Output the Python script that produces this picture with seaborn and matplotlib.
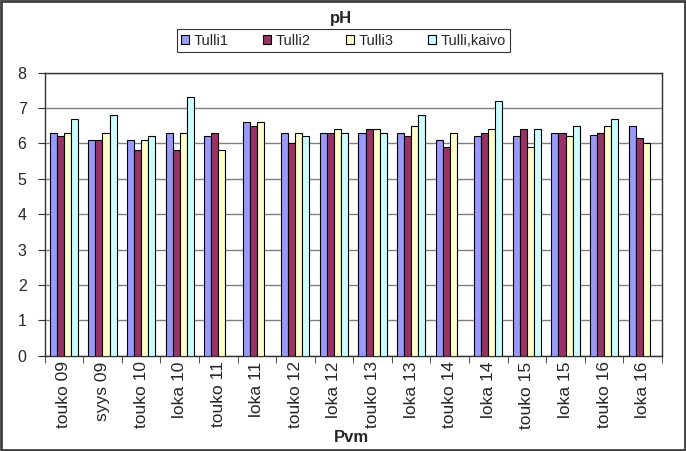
import numpy as np
import pandas as pd
import matplotlib
matplotlib.use("Agg")
import matplotlib.pyplot as plt
import seaborn as sns
from matplotlib.patches import Rectangle
from matplotlib.ticker import FixedLocator

# data
dates = ["touko 09", "syys 09", "touko 10", "loka 10", "touko 11", "loka 11",
         "touko 12", "loka 12", "touko 13", "loka 13", "touko 14", "loka 14",
         "touko 15", "loka 15", "touko 16", "loka 16"]
series = ["Tulli1", "Tulli2", "Tulli3", "Tulli,kaivo"]
tulli1 = [6.3, 6.1, 6.1, 6.3, 6.2, 6.6, 6.3, 6.3, 6.3, 6.3, 6.1, 6.2, 6.2, 6.3, 6.25, 6.5]
tulli2 = [6.2, 6.1, 5.8, 5.8, 6.3, 6.5, 6.0, 6.3, 6.4, 6.2, 5.9, 6.3, 6.4, 6.3, 6.3, 6.15]
tulli3 = [6.3, 6.3, 6.1, 6.3, 5.8, 6.6, 6.3, 6.4, 6.4, 6.5, 6.3, 6.4, 5.9, 6.2, 6.5, 6.0]
kaivo = [6.7, 6.8, 6.2, 7.3, np.nan, np.nan, 6.2, 6.3, 6.3, 6.8, np.nan, 7.2, 6.4, 6.5, 6.7, np.nan]
colors = ["#9999FF", "#993366", "#FFFFCC", "#CCFFFF"]

df = pd.DataFrame({"Pvm": dates * 4,
                   "Sarja": np.repeat(series, len(dates)),
                   "pH": tulli1 + tulli2 + tulli3 + kaivo}).dropna()

sns.set_style("white")
plt.rcParams["font.family"] = ["Liberation Sans", "DejaVu Sans"]

fig = plt.figure(figsize=(6.86, 4.51), dpi=100)
ax = fig.add_axes([0.065, 0.211, 0.900, 0.628])

sns.barplot(data=df, x="Pvm", y="pH", hue="Sarja", order=dates, hue_order=series,
            palette=colors, width=0.73, edgecolor="black", linewidth=0.8,
            saturation=1, errorbar=None, ax=ax, zorder=3)

ax.set_ylim(0, 8)
ax.set_xlim(-0.5, len(dates) - 0.5)
ax.set_yticks(range(0, 9))
ax.yaxis.grid(True, color="#808080", linewidth=1, zorder=0)
ax.set_axisbelow(True)
for s in ax.spines.values():
    s.set_color("#303030")
    s.set_linewidth(1)

ax.set_xticks(range(len(dates)))
ax.set_xticklabels(dates, rotation=90, fontsize=12.5)
ax.tick_params(axis="x", which="major", length=0, pad=4)
ax.xaxis.set_minor_locator(FixedLocator(np.arange(-0.5, len(dates), 1)))
ax.tick_params(axis="x", which="minor", length=5, color="#303030", direction="out", bottom=True)
ax.tick_params(axis="y", length=5, color="#303030", direction="out", left=True,
               labelsize=11.5, pad=8)
ax.set_xlabel("")
ax.set_ylabel("")

handles, labels = ax.get_legend_handles_labels()
ax.legend_.remove()
leg = fig.legend(handles, labels, loc="center", bbox_to_anchor=(0.5007, 0.910), ncol=4,
                 fontsize=10.5, frameon=True, fancybox=False, handlelength=0.55,
                 handleheight=0.55, handletextpad=0.3, columnspacing=2.4,
                 borderpad=0.3, borderaxespad=0)
leg.get_frame().set_edgecolor("black")
leg.get_frame().set_linewidth(0.8)
leg.get_frame().set_boxstyle("square", pad=0)

fig.text(0.497, 0.96, "pH", ha="center", va="center", fontsize=12, fontweight="bold")
fig.text(0.512, 0.031, "Pvm", ha="center", va="center", fontsize=12, fontweight="bold")

fig.add_artist(Rectangle((0.001, 0.002), 0.997, 0.995, transform=fig.transFigure,
                         fill=False, edgecolor="#404040", linewidth=2))

fig.savefig("out.png", dpi=100)
